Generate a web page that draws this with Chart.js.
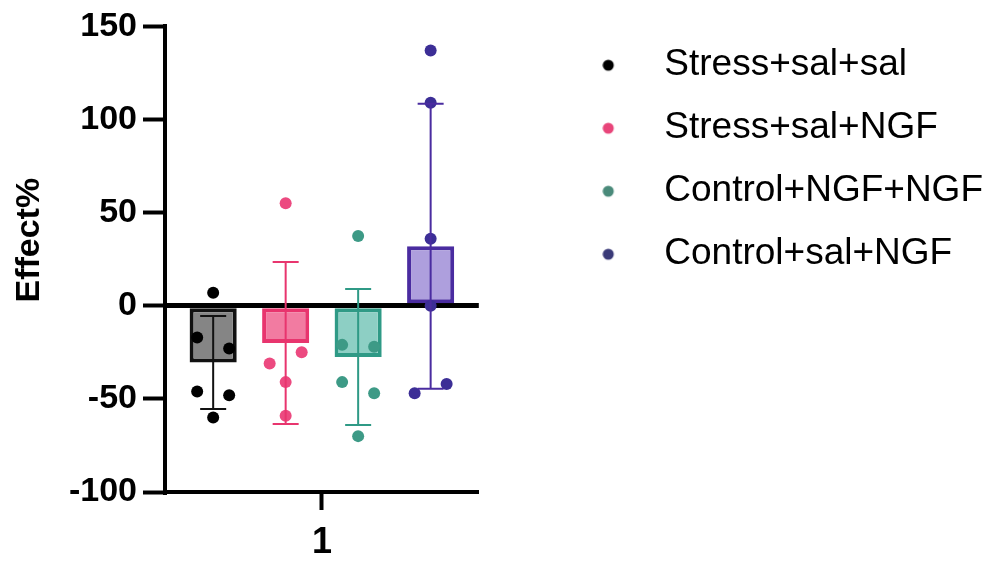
<!DOCTYPE html>
<html>
<head>
<meta charset="utf-8">
<script src="https://cdn.jsdelivr.net/npm/chart.js@4.4.0/dist/chart.umd.min.js"></script>
<style>
html, body { margin: 0; padding: 0; background: #fff; }
#wrap { width: 998px; height: 565px; }
</style>
</head>
<body>
<div id="wrap"><canvas id="myChart"></canvas></div>
<script>
// data
var categories = ['1'];
var groups = ['Stress+sal+sal', 'Stress+sal+NGF', 'Control+NGF+NGF', 'Control+sal+NGF'];
var means = [-30.5, -20, -27.5, 32];
var sds = [25, 43.5, 36.5, 76.5];
var stressSalSal = [7, -17, -23, -46, -48, -60];
var stressSalNgf = [55, -25, -31, -41, -59];
var controlNgfNgf = [37.5, -21, -22, -41, -47, -70];
var controlSalNgf = [137, 109, 36, 0, -42, -47];
var yTicks = [-100, -50, 0, 50, 100, 150];
var yTitle = 'Effect%';

var points = [stressSalSal, stressSalNgf, controlNgfNgf, controlSalNgf];
var lineColors = ['#111111', '#e8356e', '#2f9a86', '#4a2ca0'];
var fillColors = ['#858585', '#f27ba1', '#8dcfc4', '#ae9fdd'];
var dotColors = ['#000000', '#ec4a80', '#3d9a86', '#3c2e96'];
var legendDots = ['#000000', '#e8457a', '#4a8a7a', '#3a3a78'];

var font = 'Liberation Sans, Arial, sans-serif';

// legend markers: a wide canvas with the dot on its left side
var legendImgs = legendDots.map(function(c) {
  var cv = document.createElement('canvas');
  cv.width = 50; cv.height = 14;
  var g = cv.getContext('2d');
  g.fillStyle = c;
  g.beginPath();
  g.arc(6, 7, 5.5, 0, Math.PI * 2);
  g.fill();
  return cv;
});

// spread points that sit too close together
function spread(pix, dir) {
  var idx = pix.map(function(p, i) { return i; }).sort(function(a, b) { return pix[a] - pix[b]; });
  var off = pix.map(function() { return 0; });
  var k = 0;
  while (k < idx.length) {
    var grp = [idx[k]];
    while (k + grp.length < idx.length && pix[idx[k + grp.length]] - pix[grp[grp.length - 1]] < 14) {
      grp.push(idx[k + grp.length]);
    }
    if (grp.length == 2) {
      off[grp[0]] = 16 * dir;
      off[grp[1]] = -16 * dir;
    } else if (grp.length > 2) {
      grp.forEach(function(j, n) { off[j] = (n - (grp.length - 1) / 2) * 16; });
    }
    k += grp.length;
  }
  return off;
}

var dotsPlugin = {
  id: 'dots',
  afterDatasetsDraw: function(chart) {
    var ctx = chart.ctx, y = chart.scales.y;
    ctx.save();
    points.forEach(function(vals, i) {
      var bar = chart.getDatasetMeta(i).data[0];
      var pix = vals.map(function(v) { return y.getPixelForValue(v); });
      var off = spread(pix, i % 2 ? 1 : -1);
      ctx.fillStyle = dotColors[i];
      pix.forEach(function(p, j) {
        ctx.beginPath();
        ctx.arc(bar.x + off[j], p, 6, 0, Math.PI * 2);
        ctx.fill();
      });
    });
    ctx.restore();
  }
};

var errorPlugin = {
  id: 'errorBars',
  afterDatasetsDraw: function(chart) {
    var ctx = chart.ctx, y = chart.scales.y;
    ctx.save();
    means.forEach(function(m, i) {
      var bar = chart.getDatasetMeta(i).data[0];
      var top = y.getPixelForValue(m + sds[i]);
      var bot = y.getPixelForValue(m - sds[i]);
      ctx.strokeStyle = lineColors[i];
      ctx.lineWidth = 2;
      ctx.beginPath();
      ctx.moveTo(bar.x, top); ctx.lineTo(bar.x, bot);
      ctx.moveTo(bar.x - 13, top); ctx.lineTo(bar.x + 13, top);
      ctx.moveTo(bar.x - 13, bot); ctx.lineTo(bar.x + 13, bot);
      ctx.stroke();
    });
    ctx.restore();
  }
};

// y title sits a little above the middle of the axis, as in the figure
var yTitlePlugin = {
  id: 'yTitle',
  afterDraw: function(chart) {
    var ctx = chart.ctx, a = chart.chartArea;
    ctx.save();
    ctx.translate(chart.scales.y.left + 30, (a.top + a.bottom) / 2 - 19);
    ctx.rotate(-Math.PI / 2);
    ctx.font = 'bold 34px ' + font;
    ctx.fillStyle = '#000';
    ctx.textAlign = 'center';
    ctx.textBaseline = 'middle';
    ctx.fillText(yTitle, 0, 0);
    ctx.restore();
  }
};

var ctx = document.getElementById('myChart').getContext('2d');
var myChart = new Chart(ctx, {
    type: 'bar',
    data: {
        labels: categories,
        datasets: groups.map(function(g, i) {
            return {
                label: g,
                data: [means[i]],
                backgroundColor: fillColors[i],
                borderColor: lineColors[i],
                borderWidth: 4,
                borderSkipped: false,
                categoryPercentage: 0.924,
                barPercentage: 0.65
            };
        })
    },
    options: {
        responsive: true,
        maintainAspectRatio: false,
        animation: false,
        layout: { padding: { left: 0, top: 6, right: 5, bottom: 0 } },
        plugins: {
            tooltip: { enabled: false },
            legend: {
                position: 'right',
                align: 'start',
                maxWidth: 460,
                title: { display: true, text: '', font: { size: 1 }, padding: { top: 0, bottom: 13.5 } },
                labels: {
                    usePointStyle: true,
                    padding: 26,
                    color: '#000',
                    font: { size: 37, family: font },
                    generateLabels: function(chart) {
                        return groups.map(function(g, i) {
                            return { text: g, pointStyle: legendImgs[i], fillStyle: legendDots[i], fontColor: '#000',
                                     strokeStyle: legendDots[i], lineWidth: 0, hidden: false, datasetIndex: i };
                        });
                    }
                }
            }
        },
        scales: {
            x: {
                afterFit: function(s) { s.height = 73; },
                border: { display: true, color: '#000', width: 4 },
                grid: { display: true, drawOnChartArea: false, offset: false, color: '#000',
                        tickColor: '#000', tickLength: 18, tickWidth: 4 },
                ticks: { color: '#000', padding: 11, font: { size: 36, weight: 'bold', family: font } }
            },
            y: {
                min: -100,
                max: 150,
                afterFit: function(s) { s.width = 165; },
                afterBuildTicks: function(s) { s.ticks = yTicks.map(function(v) { return { value: v }; }); },
                border: { display: true, color: '#000', width: 4 },
                grid: {
                    color: function(c) { return c.tick && c.tick.value === 0 ? '#000' : 'rgba(0,0,0,0)'; },
                    lineWidth: 5,
                    tickColor: '#000',
                    tickLength: 22,
                    tickWidth: 4
                },
                ticks: { color: '#000', padding: 6, font: { size: 34, weight: 'bold', family: font } }
            },
            y2: {
                position: 'right',
                display: true,
                grid: { display: false },
                border: { display: false },
                ticks: { display: false },
                afterFit: function(s) { s.width = 104; }
            }
        }
    },
    plugins: [dotsPlugin, errorPlugin, yTitlePlugin]
});
</script>
</body>
</html>
